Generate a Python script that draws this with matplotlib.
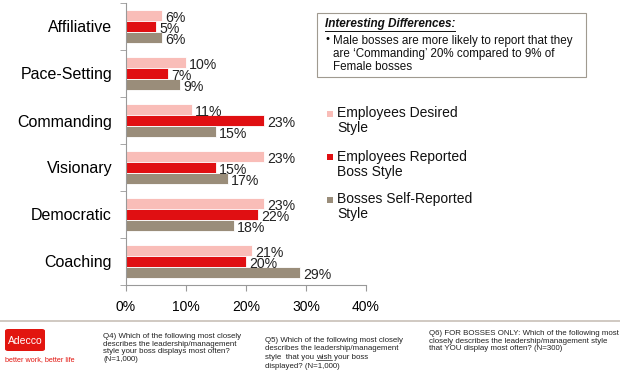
import matplotlib
matplotlib.use("Agg")
import matplotlib.pyplot as plt
import numpy as np
from matplotlib.patches import FancyBboxPatch, Rectangle
from matplotlib.lines import Line2D

categories = ["Affiliative", "Pace-Setting", "Commanding", "Visionary", "Democratic", "Coaching"]
desired = [6, 10, 11, 23, 23, 21]
reported = [5, 7, 23, 15, 22, 20]
bosses = [6, 9, 15, 17, 18, 29]
series_names = ["Employees Desired\nStyle", "Employees Reported\nBoss Style", "Bosses Self-Reported\nStyle"]
colors = ["#F9BDB8", "#E00F12", "#9A8D7A"]
xticks = [0, 10, 20, 30, 40]

plt.rcParams['font.family'] = ['Liberation Sans', 'DejaVu Sans']

W, H = 620, 381
fig = plt.figure(figsize=(6.2, 3.81), dpi=100)
ax = fig.add_axes([126 / W, 1 - 285 / H, 240 / W, 282 / H])

n = len(categories)
y = np.arange(n)
h = 0.23
series = [desired, reported, bosses]
for i, (vals, c) in enumerate(zip(series, colors)):
    pos = y + (i - 1) * h
    ax.barh(pos, vals, height=h, color=c, edgecolor="white", linewidth=0.6)
    for p, v in zip(pos, vals):
        ax.text(v + 0.5, p + 0.05, f"{v}%", va="center", ha="left", fontsize=10.2, color="#222222")

ax.set_ylim(n - 0.5, -0.5)
ax.set_xlim(0, 40)
ax.set_xticks(xticks)
ax.set_xticklabels([f"{t}%" for t in xticks], fontsize=10)
ax.set_yticks(y)
ax.set_yticklabels(categories, fontsize=11.5)
ax.set_yticks(np.arange(n + 1) - 0.5, minor=True)
ax.tick_params(axis="y", which="major", length=0, pad=10)
ax.tick_params(axis="y", which="minor", length=4, color="#999999")
ax.tick_params(axis="x", length=4, color="#999999", pad=6.5)
for s in ["top", "right"]:
    ax.spines[s].set_visible(False)
for s in ["left", "bottom"]:
    ax.spines[s].set_color("#999999")

# Annotation box
fig.patches.append(Rectangle((317 / W, 1 - 77 / H), (586 - 317) / W, (77 - 13) / H,
                             transform=fig.transFigure, facecolor="white", edgecolor="#A09A90", linewidth=0.8))
fig.text(325 / W, 1 - 24.5 / H, "Interesting Differences:", fontsize=8.5, fontstyle="italic",
         fontweight="bold", va="center", ha="left", color="#111111")
fig.add_artist(Line2D([325 / W, 455 / W], [1 - 30.5 / H, 1 - 30.5 / H], color="#111111", linewidth=0.7))
fig.text(325 / W, 1 - 39 / H, "\u2022", fontsize=8, va="center", ha="left")
fig.text(333 / W, 1 - 54 / H,
         "Male bosses are more likely to report that they\nare \u2018Commanding\u2019 20% compared to 9% of\nFemale bosses",
         fontsize=8.4, va="center", ha="left", linespacing=1.1, color="#111111")

# Legend
leg_y = [120.5, 164.5, 206.5]
for name, c, ly in zip(series_names, colors, leg_y):
    fig.patches.append(Rectangle((327 / W, 1 - (ly - 4) / H), 6 / W, 6 / H,
                                 transform=fig.transFigure, facecolor=c, edgecolor="none"))
    fig.text(337 / W, 1 - ly / H, name, fontsize=10, va="center", ha="left",
             linespacing=1.15, color="#111111")

# Footer separator
fig.add_artist(Line2D([0, 1], [1 - 321 / H, 1 - 321 / H], color="#C8C0B8", linewidth=1.2))

# Logo
fig.patches.append(FancyBboxPatch((5 / W, 1 - 351 / H), 40 / W, 22 / H,
                                  boxstyle="round,pad=0,rounding_size=0.005",
                                  transform=fig.transFigure, facecolor="#E2150F", edgecolor="none"))
fig.text(25 / W, 1 - 341 / H, "Adecco", fontsize=7.5, color="white", ha="center", va="center")
fig.text(5 / W, 1 - 360 / H, "better work, better life", fontsize=5.2, color="#E2150F", ha="left", va="center")

fs = 5.7
ls = 1.12
tc = "#222222"
fig.text(103 / W, 1 - 333 / H,
         "Q4) Which of the following most closely\ndescribes the leadership/management\nstyle your boss displays most often?\n(N=1,000)",
         fontsize=fs, va="top", ha="left", linespacing=ls, color=tc)
fig.text(429 / W, 1 - 330 / H,
         "Q6) FOR BOSSES ONLY: Which of the following most\nclosely describes the leadership/management style\nthat YOU display most often? (N=300)",
         fontsize=fs, va="top", ha="left", linespacing=ls, color=tc)

# Q5 drawn line by line, with "wish" underlined
q5x = 265 / W
base = [341.5, 350.2, 359.0, 367.7]
fig.text(q5x, 1 - base[0] / H, "Q5) Which of the following most closely", fontsize=fs, va="baseline", ha="left", color=tc)
fig.text(q5x, 1 - base[1] / H, "describes the leadership/management", fontsize=fs, va="baseline", ha="left", color=tc)
t1 = fig.text(q5x, 1 - base[2] / H, "style  that you", fontsize=fs, va="baseline", ha="left", color=tc)
t2 = fig.text(0, 0, "wish", fontsize=fs, va="baseline", ha="left", color=tc)
t3 = fig.text(0, 0, "your boss", fontsize=fs, va="baseline", ha="left", color=tc)
fig.text(q5x, 1 - base[3] / H, "displayed? (N=1,000)", fontsize=fs, va="baseline", ha="left", color=tc)

fig.canvas.draw()
r = fig.canvas.get_renderer()
sp = 2.2  # space width in px
e1 = t1.get_window_extent(r)
t2.set_position(((e1.x1 + sp) / W, 1 - base[2] / H))
e2 = t2.get_window_extent(r)
t3.set_position(((e2.x1 + sp) / W, 1 - base[2] / H))
uy = 1 - (base[2] + 1.2) / H
fig.add_artist(Line2D([e2.x0 / W, e2.x1 / W], [uy, uy], color=tc, linewidth=0.5))

fig.savefig("out.png", dpi=100)
